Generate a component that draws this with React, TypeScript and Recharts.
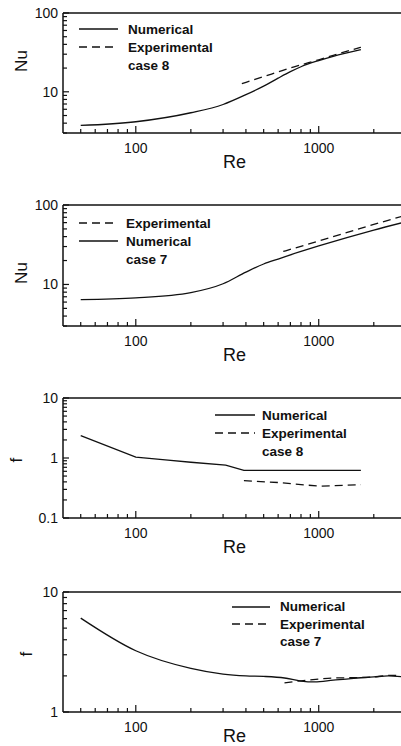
import React from 'react';
import { LineChart, Line, XAxis, YAxis, ReferenceLine, Label } from 'recharts';

// shared Re axis
const reTicks = [50, 60, 70, 80, 90, 100, 200, 300, 400, 500, 600, 700, 800, 900, 1000, 2000, 3000];
const reLabels = [100, 1000];

const nuTicks = [3, 4, 5, 6, 7, 8, 9, 10, 20, 30, 40, 50, 60, 70, 80, 90, 100];
const nuLabels = [10, 100];
const f8Ticks = [0.1, 0.2, 0.3, 0.4, 0.5, 0.6, 0.7, 0.8, 0.9, 1, 2, 3, 4, 5, 6, 7, 8, 9, 10];
const f8Labels = [0.1, 1, 10];
const f7Ticks = [1, 2, 3, 4, 5, 6, 7, 8, 9, 10];
const f7Labels = [1, 10];

// Nu, case 8
const nu8NumRe = [50, 100, 200, 300, 400, 500, 600, 700, 800, 1000, 1200, 1700];
const nu8NumVal = [3.74, 4.17, 5.42, 6.9, 9.2, 11.8, 14.9, 18.0, 20.8, 24.9, 28.2, 34.3];
const nu8ExpRe = [380, 500, 600, 700, 800, 1000, 1200, 1700];
const nu8ExpVal = [12.7, 15.6, 17.9, 20.1, 22, 25.5, 29, 36.7];

// Nu, case 7
const nu7NumRe = [50, 100, 200, 300, 400, 500, 600, 800, 1000, 2000, 3000];
const nu7NumVal = [6.45, 6.78, 7.9, 10.2, 14.3, 18.1, 20.9, 26, 30.5, 48.3, 61.5];
const nu7ExpRe = [640, 1000, 2000, 3000];
const nu7ExpVal = [26, 35.2, 56.9, 74.5];

// f, case 8
const f8NumRe = [50, 100, 150, 200, 310, 390, 1000, 1700];
const f8NumVal = [2.36, 1.03, 0.92, 0.85, 0.76, 0.62, 0.62, 0.62];
const f8ExpRe = [390, 600, 800, 1000, 1200, 1700];
const f8ExpVal = [0.42, 0.39, 0.36, 0.34, 0.345, 0.36];

// f, case 7
const f7NumRe = [50, 100, 200, 300, 400, 500, 650, 800, 950, 1200, 1500, 2000, 2400, 3000];
const f7NumVal = [6.06, 3.24, 2.31, 2.07, 2.0, 1.98, 1.92, 1.81, 1.78, 1.84, 1.9, 1.96, 2.0, 1.95];
const f7ExpRe = [650, 800, 1000, 1200, 1500, 2000, 2500, 3000];
const f7ExpVal = [1.75, 1.82, 1.88, 1.92, 1.93, 1.96, 2.02, 1.98];

const INK = '#111';
const FONT = '"Liberation Sans", Arial, Helvetica, sans-serif';

const rows = (re: number[], val: number[]) => re.map((r, i) => ({ re: r, v: val[i] }));

function XTick({ x, y, payload }: any) {
  const major = reLabels.includes(payload.value);
  return (
    <g>
      <line x1={x} x2={x} y1={y} y2={y - (major ? 7 : 4)} stroke={INK} strokeWidth={1.2} />
      {major && (
        <text x={x} y={y + 15} textAnchor="middle" dominantBaseline="central" fontSize={14} fontFamily={FONT} fill={INK}>
          {payload.value}
        </text>
      )}
    </g>
  );
}

function YTick({ x, y, payload, labels }: any) {
  const major = labels.includes(payload.value);
  return (
    <g>
      <line x1={x} x2={x + (major ? 6 : 4)} y1={y} y2={y} stroke={INK} strokeWidth={1.2} />
      {major && (
        <text x={x - 5} y={y} textAnchor="end" dominantBaseline="central" fontSize={14} fontFamily={FONT} fill={INK}>
          {payload.value}
        </text>
      )}
    </g>
  );
}

type Item = { name: string; dashed: boolean };

function PanelLegend({ left, top, lineW, gap, items, note, rowH = 18 }: any) {
  return (
    <div style={{ position: 'absolute', left, top, fontFamily: FONT, fontWeight: 'bold', fontSize: 13.5, color: INK }}>
      {items.map((it: Item) => (
        <div key={it.name} style={{ display: 'flex', alignItems: 'center', height: rowH }}>
          <svg width={lineW} height={4} style={{ marginRight: gap }}>
            <line x1={0} x2={lineW} y1={2} y2={2} stroke={INK} strokeWidth={1.4} strokeDasharray={it.dashed ? '8 5' : undefined} />
          </svg>
          <span>{it.name}</span>
        </div>
      ))}
      <div style={{ height: rowH, display: 'flex', alignItems: 'center', paddingLeft: lineW + gap }}>{note}</div>
    </div>
  );
}

type PanelProps = {
  plotTop: number;
  plotH: number;
  yDomain: [number, number];
  yTicks: number[];
  yLabels: number[];
  yTitle: string;
  titleX: number;
  titleY: number;
  num: { re: number; v: number }[];
  exp: { re: number; v: number }[];
  curve: 'monotone' | 'linear';
  reOffset?: number;
};

function Panel({ plotTop, plotH, yDomain, yTicks, yLabels, yTitle, titleX, titleY, num, exp, curve, reOffset = 5 }: PanelProps) {
  const top = plotTop - 13;
  return (
    <div style={{ position: 'absolute', left: 0, top }}>
      <LineChart width={406} height={13 + plotH + 40} margin={{ top: 13, right: 0, bottom: 0, left: 0 }}>
        <XAxis
          dataKey="re"
          type="number"
          scale="log"
          domain={[40, 3000]}
          allowDataOverflow
          ticks={reTicks}
          interval={0}
          tickSize={0}
          tickMargin={0}
          tick={(p: any) => <XTick {...p} />}
          height={40}
          stroke={INK}
          strokeWidth={1.5}
        >
          <Label value="Re" position="insideBottom" offset={reOffset} fontSize={18} fontFamily={FONT} fill={INK} />
        </XAxis>
        <YAxis
          type="number"
          scale="log"
          domain={yDomain}
          allowDataOverflow
          ticks={yTicks}
          interval={0}
          tickSize={0}
          tickMargin={0}
          tick={(p: any) => <YTick {...p} labels={yLabels} />}
          width={63}
          stroke={INK}
          strokeWidth={1.5}
        >
          <Label
            content={() => (
              <text
                x={titleX}
                y={titleY - top}
                transform={`rotate(-90 ${titleX} ${titleY - top})`}
                textAnchor="middle"
                dominantBaseline="central"
                fontSize={17}
                fontFamily={FONT}
                fill={INK}
              >
                {yTitle}
              </text>
            )}
          />
        </YAxis>
        <ReferenceLine y={yDomain[1]} stroke={INK} strokeWidth={1.5} />
        <Line data={num} dataKey="v" type={curve} stroke={INK} strokeWidth={1.3} dot={false} isAnimationActive={false} />
        <Line data={exp} dataKey="v" type={curve} stroke={INK} strokeWidth={1.3} strokeDasharray="8 5" dot={false} isAnimationActive={false} />
      </LineChart>
    </div>
  );
}

export default function App() {
  return (
    <div style={{ position: 'fixed', left: 0, top: 0, width: 401, height: 746, overflow: 'hidden', background: '#fff' }}>
      <Panel plotTop={13} plotH={120} yDomain={[3, 100]} yTicks={nuTicks} yLabels={nuLabels} yTitle="Nu" titleX={21} titleY={61}
        num={rows(nu8NumRe, nu8NumVal)} exp={rows(nu8ExpRe, nu8ExpVal)} curve="monotone" />
      <PanelLegend left={79} top={20} lineW={39} gap={10} note="case 8"
        items={[{ name: 'Numerical', dashed: false }, { name: 'Experimental', dashed: true }]} />

      <Panel plotTop={205} plotH={121} yDomain={[3, 100]} yTicks={nuTicks} yLabels={nuLabels} yTitle="Nu" titleX={21} titleY={273}
        num={rows(nu7NumRe, nu7NumVal)} exp={rows(nu7ExpRe, nu7ExpVal)} curve="monotone" />
      <PanelLegend left={79} top={214} lineW={39} gap={8} note="case 7"
        items={[{ name: 'Experimental', dashed: true }, { name: 'Numerical', dashed: false }]} />

      <Panel plotTop={398} plotH={120} yDomain={[0.1, 10]} yTicks={f8Ticks} yLabels={f8Labels} yTitle="f" titleX={16} titleY={460}
        num={rows(f8NumRe, f8NumVal)} exp={rows(f8ExpRe, f8ExpVal)} curve="linear" />
      <PanelLegend left={215} top={406} lineW={40} gap={7} note="case 8"
        items={[{ name: 'Numerical', dashed: false }, { name: 'Experimental', dashed: true }]} />

      <Panel plotTop={592} plotH={120} yDomain={[1, 10]} yTicks={f7Ticks} yLabels={f7Labels} yTitle="f" titleX={26} titleY={654}
        num={rows(f7NumRe, f7NumVal)} exp={rows(f7ExpRe, f7ExpVal)} curve="monotone" reOffset={10} />
      <PanelLegend left={232} top={598} lineW={38} gap={10} rowH={17.5} note="case 7"
        items={[{ name: 'Numerical', dashed: false }, { name: 'Experimental', dashed: true }]} />
    </div>
  );
}
